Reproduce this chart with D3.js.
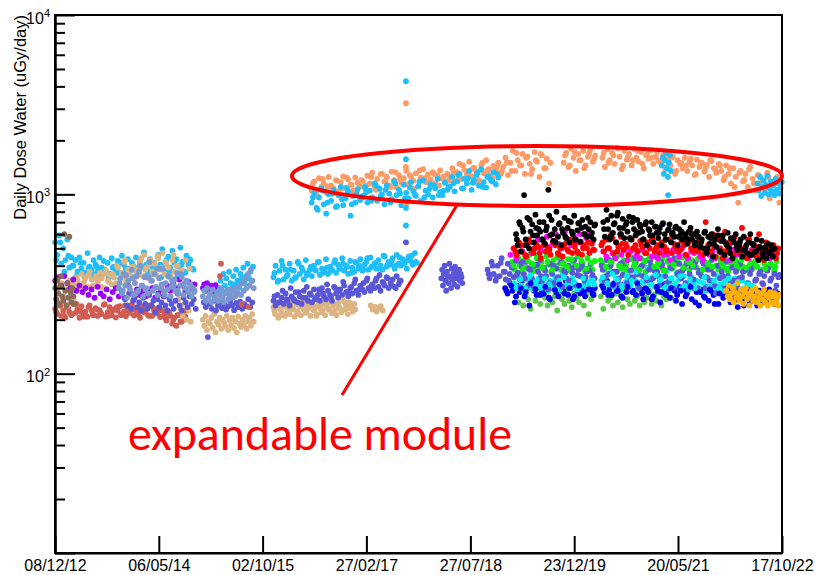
<!DOCTYPE html>
<html lang="en">
<head>
<meta charset="utf-8">
<title>Daily Dose Water</title>
<script src="https://d3js.org/d3.v7.min.js"></script>
<style>
  body { margin: 0; background: #fff; }
  svg text { font-family: "Liberation Sans", Arial, Helvetica, sans-serif; }
</style>
</head>
<body>
<div id="chart"></div>
<script>
// axis ticks
var tickDates = ["2012-12-08", "2014-05-06", "2015-10-02", "2017-02-27", "2018-07-27", "2019-12-23", "2021-05-20", "2022-10-17"];
var yMajor = [10, 100, 1000, 10000];
var yLabelled = [100, 1000, 10000];

// ---- 2012-2014 sensors (values in uGy/day, one value every `step` days from start)
var lightBlue1 = [540,460,590,410,500,430,560,390,445,400, 430,370,445,385,415,365,470,395,380,430,
  405,370,445,390,425,375,415,360,440,395, 380,425,365,455,405,385,435,370,415,395,
  445,375,420,390,475,405,370,435,395,415, 385,460,405,495,375,430,450,390,485,415,
  435,395,505,420,370,455,405,430,385];
var lightBlue1b = [430,540,370,455,400, 350,415,345,390,360, 395,350,380,345,390, 365,415,350,385,345,
  375,395,350,420,360, 385,345,410,370,430, 350,405,365,435,380];
var tan1 = [290,250,320,270,300,240,330,280,260,310, 330,300,360,320,345,305,370,335,310,350,
  325,365,340,300,375,330,355,315,345,320, 390,340,365,420,330,380,350,395,340,370,
  380,420,350,460,390,340,430,370,410,355, 440,380,470,360,410,390,350,430,370,400,
  260,230,210,245,200,225,195];
var tan1b = [315,345,300,335,355,310,340,305,360,325, 360,400,345,430,370,395,350,440,380,410,
  360,450,390,420,345,460,400,375,430,385];
var indianRed1 = [230,215,240,210,225,205,235,220,212,245, 218,228,205,238,215,222,208,240,225,212,
  232,210,226,215,242,208,220,235,212,228, 206,224,238,214,222,209,230,218,243,211,
  226,215,205,236,220,228,212,240,210,224, 218,232,207,226,215,198,222,210,190,205,
  185,212,195,218,200,225];
var indianRed1b = [220,240,210,232,215,245,222,208,236,214, 228,218,244,210,226,235,212,240,220,230,
  214,238,222,210,234,216,226,205,218,200, 212,195,208];
var purple1 = [330,345,310,350,320,300,335,290,310,285, 300,275,295,265,305,280,270,295,260,285,
  300,270,290,265,310,280,260,295,275,290, 270,285,300,265,280,295,270,310,290,320,
  300,335,310,290,325,300,315];
var brown1 = [300,260,330,280,245,310,350,270,255,600,290,240,320,265,580,285,250,300,270,245];
var steel1 = [300,340,280,360,310,265,330,295,380,275, 320,350,290,400,310,270,345,300,280,420,
  330,290,360,305,275,340,300,385,285,320, 295,350,270,330,310,290,365,280,310,345,
  275,300,330,285,315,270,300,290];
var steel1b = [320,290,355,305,340,280,370,310,295,345,330,300,385,315,275,350,305,335,290,360,320,295,310,285];
var slate1 = [260,240,280,230,255,270,235,250,225,265, 245,230,275,240,255,220,260,235,250,270,
  240,225,260,245,230,255,280,240,225,265, 250,235,270,245,260,230];

// ---- 2015
var tan2 = [200,185,210,175,195,190,205,180,215,170, 195,188,205,178,200,192,183,210,175,198,
  186,205,180,195,170,208,190,182,200,187, 210,178,196,205,185,215,195];
var purple2 = [300,315,290,320,305,295,310,285,300,312];
var slate2 = [250,235,160,245,230,255,225,240,250,232, 245,228,238,255,240,226,248,235,252,230,
  244,238,260,235,250];
var steel2 = [270,290,255,300,265,280,250,295,270,260, 285,255,275,300,265,250,280,290,260,275,
  295,265,285,270,300,280,310,275,320,290, 340,300,360,310,380,330,300];
var lightBlue2 = [300,330,290,360,310,340,295,370,320,300, 350,315,380,330,300,360,340,390,320,350,
  410,340,370,330,395];
var indianRed2Dates = ["2015-03-05", "2015-03-10", "2015-06-20", "2015-07-25"];
var indianRed2 = [350, 410, 245, 235];

// ---- 2016-2018
var lightBlue3 = [345,400,325,375,425,335,380,355,410,330, 375,345,420,360,390,335,430,365,380,350,
  400,375,420,355,385,370,435,360,395,380, 415,365,405,385,440,375,400,360,425,390,
  370,415,385,435,375,405,420,380,445,395, 410,385,430,400,380,450,395,420,405,440,
  385,460,410,400,435,415,385,450,425,405, 470,415];
var lightBlue3b = [365,330,400,350,380,340,410,375,355,395, 380,420,365,390,375,430,385,410,395,365,
  420,400,380,440,395,415,385,455,405,425, 400,445,410,430,455,420];
var slate3 = [255,240,275,250,265,245,280,255,240,270, 260,285,250,270,245,290,265,255,280,250,
  295,265,275,255,300,270,260,290,275,255, 305,280,265,295,275,310,285,270,300,280,
  320,290,275,310,295,285,330,300,290,315, 300,340,305,290,325,310,345,300,320,335,
  305,350,315,330];
var slate3b = [270,250,290,260,300,255,285,265,305,275, 260,295,280,315,270,300,290,325,285,305,
  335,295,320,340,310,330,355,320,340,310, 300,330];
var tan3 = [235,215,250,205,230,220,245,210,240,225, 215,250,230,208,245,222,238,212,255,228,
  218,242,232,210,248,225,236,215,252,230, 220,245,212,238,228,250,218,240,225,212,
  246,232,220,255,228,240,215,250,235,222, 245];
var tan3c = [225,245,212,238,220,250,228,215,242,232, 222,248,235,210,240,226,252,230,218,244,
  236,225,250,232,240,228];
var tan3b = [240,228,236,222,232,238,225];
var slate2018 = [340,380,310,360,400,330,290,370,350,320, 410,345,300,385,335,360,315,395,340,370,
  305,355,380,330,360,345,320];

// ---- expandable module (upper band)
var salmon = [1050,1180,1000,1230,1100,1150,1020,1250,1120,1080,1200,1040,1170,1260,1090,1210,1130,1050,1240,1160,1110,
  1190,1080,1270,1150,1320,1100,1220,1060,1300,1180,1250,1120,1340,1200,1090,1280,1160,1230,1350,1140,
  1260,1190,1310,1110,1240,1380,1170,1290,1210,1330,1150,1270,1360,1220,1180,1300,
  1250,1400,1180,1330,1480,1220,1370,1290,1520,1260,1410,1340,1200,1460,1310,1550,1380,1270,1440,1350,1500,1300,
  1420,1600,1280,1500,1750,1350,1550,1450,1680,1300,1620,1480,1380,1720,1520,1250,1650,1400,1580,1150,
  null,null,null,null,null,
  1500,1700,1420,1800,1600,1350,1680,1550,1750,1450,1620,1780,1520,1650,
  null,null,
  1600,1420,1780,1550,1700,1480,1820,1620,1380,1750,1560,1680,1450,1800,1600,1520,1720,1400,1650,1580,1760,1480,1620,1540,
  1500,1650,1380,1580,1450,1620,1300,1550,1480,1400,1600,1350,1520,1450,1280,1560,1420,1500,1340,1460,1250,1530,1400,1320,1480,
  1350,1200,1450,1300,1150,1400,1250,900,1350,1180,1300,1100,1420,1220,1050,1280,1150,
  1200,1050,1320,950,1150,1000,1250,900];
var salmonB = [1150,1060,1220,1100,1010,1190,1080,1240,1130,1040,1200,
  1120,1250,1060,1300,1180,1100,1330,1210,1140,1280,1080,1360,1230,1170,1300,1120,1260,1190,
  1320,1200,1450,1280,1390,1160,1500,1350,1230,1420,1340,
  1500,1350,1700,1450,1600,1300,1550,1680,1400,1500,
  null,null,
  1650,1450,1720,1550,1400,1700,1580,
  null,
  1700,1500,1650,1800,1450,1620,1550,1750,1480,1680,1600,1720,
  1550,1420,1600,1350,1500,1450,1580,1300,1480,1400,1550,1380,1450,
  1250,1400,1100,1320,1200,1380,1150,1280,
  1100,1250,1000,1180];
var lightBlueHigh = [900,1020,840,960,1080,880,780,1000,920,1060,850,990,1100,870,950,1040,760,980,900,1070,930,
  980,1100,900,1050,960,1150,920,1080,1000,880,1120,1010,940,1180,990,1060,870,1130,1020,950,1170,1040,980,1110,920,1200,1050,1000,1140,960,1080,1220,1030,990,1160,1060,
  1100,1250,1040,1180,1300,1080,1220,1150,1350,1060,1200,1280,1120,1380,1170,1090,1260,1200,1330,1140,1240];
var lightBlueHighB = [960,820,1050,900,1010,860,940,1080,880,1000,950,
  1030,920,1120,980,1060,900,1150,1010,950,1090,1000,1180,960,1070,1120,990,1050,1100,
  1150,1280,1080,1230,1160,1320,1100,1250,1180,1300];
var lightBlue4 = [1450,1600,1300,1550,1700,1400,1250,1500,1650,1350];
var lightBlue5 = [1150,1050,1250,980,1100,1200,1020,1130,1270,1000,1080,1180,1040,1120,990,1220,1060,1150,1010,1090,1170];
var lightBlueExtraDates = ["2021-04-01"];
var lightBlueExtra = [990];

// single-day spike (2017-09-11)
var spikeDate = "2017-09-11";
var spikeLightBlue = [4275, 1570, 840, 670];
var spikeSalmon = [3220, 1420, 870];
var spikeSlate = [540];

// ---- 2018-2022 sensors
var slate4 = [380,340,420,360,330,400,350,440,370,335,410,360,390,345,425,365,335,395,
  360,420,310,380,340,400,300,370,430,330,390,350,295,410,360,320,385,345,415,305,375,340,400,325,365,430,310,380,350,395,330,370,300,410,355,340,
  null,null,null,
  380,330,430,360,400,310,450,370,340,410,355,390,320,440,375,345,415,360,300,395,350,425,335,380,
  400,340,450,370,310,420,380,350,460,330,390,300,430,365,410,340,385,320,445,360,395,335,420,300,375,
  350,410,300,380,330,430,360,280,400,340,370,310,420,350,290,390,330,370,300,410,345,275,380,320,360,300,400,335,280,370,320,350,290,390,330,270,360,310,345];
var slate4b = [360,400,345,415,370,330,395,355,420,340, 385,310,405,350,375,320,400,340,420,365, 330,390,355,410,345,375,335,
  null,
  400,350,430,370,320,415,385,345,440,360, 400,330,425,375,350,405,320,390,440,355, 375,410,335,395,365,420,345,380,310,400,
  350,385,325,395,340,370,300,380,330,360, 315,375,340,290,355];
var black = [600,520,700,480,650,990,560,740,500,620,680,540,770,590,640,
  620,560,700,530,660,1060,590,720,550,640,800,580,690,520,610,740,570,650,540,700,600,760,560,630,690,545,720,600,660,580,640,700,610,560,680,
  null,null,null,null,
  700,580,820,640,560,760,610,690,540,790,650,600,730,570,680,620,750,560,700,640,590,720,610,660,
  620,560,680,520,640,590,700,540,660,610,570,650,520,690,600,560,630,680,540,610,580,660,520,640,600,560,700,580,530,620,650,560,600,540,620,580,510,
  560,500,620,470,580,530,600,450,560,510,640,480,550,590,460,530,610,500,570,440,540,600,490,520,560,450,580,500,470,540,600,460,520,480,560,430,510,550,470,500,440,530,480,520,450,500];
var blackB = [560,680,620,520,720,590,650,700,560,630, 760,600,540,680,640,580,710,620,560,690, 650,600,740,580,670,
  null,null,
  640,720,580,680,760,600,650,700,570,740, 620,680,560,700,630,590,660,610,680,560, 640,600,650,580,620,600,
  560,600,520,580,540,610,500,570,530,590, 480,550,520,470,560,510,540,490,520,460, 530,480,500,450,510,470,490];
var red = [500,460,540,480,520,450,560,490,470,530,510,440,550,480,500,460,540,520,470,500,450,530,490,560,470,510,480,540,460,520,500,470,530,490,
  null,null,
  520,480,560,500,600,470,540,510,580,490,530,460,570,500,520,480,550,510,470,540,500,560,480,520,470,540,510,490,560,470,530,500,480,550,520,460,540,500,480,520,
  480,540,460,700,520,480,600,450,560,500,440,620,490,530,460,580,510,470,650,500,440,560,480,520,450,600,470,430,540,490,460,520,440,500];
var redB = [480,520,460,540,500,470,520,490,550,460,510,480,530,470,500,540,490,
  null,
  540,500,570,480,530,510,560,490,520,470,550,500,530,480,560,510,490,540,620,500,
  560,470,530,510,590,480,540,460,520,500,560,470,510,450,530,490,470];
var magenta1 = [460,500,440,520,480,450,540,470,500,560,490,520,580,510,540,600,530,500,620,550,520,590,540,600,510,570,620,540];
var magenta2 = [480,450,500,470,440,510,460,490,430,480,500,460,440,490,470,510,450,480,440,500,460,470,430,490,480,450,500,460,440,480,
  470,500,450,430,490,460,480,440,500,470,450,480,430,490,460,500,450,470,440,490,460,480,500,450,470,440,490,460];
var lime = [420,380,450,400,370,430,390,460,410,375,440,395,420,385,450,405,370,430,400,445,380,415,390,435,375,420,400,450,385,410,370,440,395,380,425,
  null,null,
  410,380,440,395,420,370,450,400,385,430,410,375,445,395,420,385,440,405,370,430,400,450,380,415,395,440,375,420,400,385,435,410,370,445,395,420,380,430,405,390,
  440,375,420,395,410,385,450,400,380,425,395,440,370,415,400,430,385,420,395,375,440,405,385,420,395,430,380,410,390,440,400,375,425];
var limeB = [400,440,385,425,405,455,390,420,380,445,410,395,435,400,425,385,415,
  null,
  430,395,420,450,400,385,435,410,380,425,445,395,415,375,430,405,440,390,420,400,
  435,380,415,395,445,405,385,425,400,430,390,415,400,435,385,410,395];
var cyan = [320,300,345,310,290,335,305,360,295,325,340,300,315,350,290,330,305,345,315,295,360,310,330,300,340,320,295,350,310,335,300,325,345,315,
  null,null,
  330,300,350,315,370,305,340,320,295,360,325,345,310,380,330,300,355,320,340,390,315,345,305,365,330,350,300,375,320,340,310,360,335,300,350,320,295,345,315,330,
  300,355,320,290,340,310,330,300,350,315,290,335,305,325,300,340,310,285,330,300,320,295,310,300];
var cyanB = [310,335,300,350,320,305,340,315,295,330,345,310,325,300,340,315,330,
  null,
  345,320,360,335,310,350,330,370,325,345,315,355,335,305,340,320,350,310,335,300,
  325,345,310,330,300,320,340,305,325,295,315,305];
var blue = [300,280,320,290,250,310,285,330,270,300,240,315,290,275,325,295,280,310,265,300,320,285,270,305,290,330,275,300,260,315,290,280,305,270,320,295,280,300,
  null,null,
  310,285,330,295,275,320,290,300,270,315,285,305,330,290,275,310,295,260,300,285,320,270,305,290,250,315,280,300,265,310,290,275,305,245,295,280,310,260,300,285,
  240,295,270,305,255,290,275,300,245,285,265,300,280,250,295,270,235,290,260,280,300,250,285,270,240,290,265,280,255,295,270,245,280];
var blueB = [290,310,270,300,285,320,295,275,305,260,295,315,280,300,270,310,285,295,275,
  null,
  300,275,315,290,265,305,285,320,280,295,260,305,285,275,300,255,290,270,305,250,
  285,265,295,245,280,270,290,255,275,240,285,260,275,250,290,265,280];
var seaGreen = [270,250,290,240,280,260,230,295,255,275,245,285,265,240,300,250,270,225,285,260,245,290,255,235,280,265,250,295,240,275,215,260,285,
  null,null,
  270,230,290,255,265,240,280,250,275,235,290,260,245,285,255,270,240,280,250,265,290,245,275,255,285,240,270,260,290,265];
var gold = [290,270,310,260,280,300,250,285,265,320,275,255,295,270,245,285,300,260,280,240,275,290,255,270,300,250,285,265,240,280,
  260,295,250,275,240,265,285,250,270,245,280,255,265,240,275];

// draw order (first = bottom)
var series = [
  { values: salmon,         start: "2016-06-01", step: 12, color: "#fd9a66" },
  { values: salmonB,        start: "2016-06-07", step: 24, color: "#fd9a66" },
  { values: lightBlueHigh,  start: "2016-06-01", step: 12, color: "#1ebefa" },
  { values: lightBlueHighB, start: "2016-06-07", step: 24, color: "#1ebefa" },
  { values: lightBlue4,     start: "2021-03-01", step: 5,  color: "#1ebefa" },
  { values: lightBlue5,     start: "2022-06-18", step: 6,  color: "#1ebefa" },
  { values: lightBlue1,     start: "2012-12-09", step: 10, color: "#1ebefa" },
  { values: lightBlue1b,    start: "2012-12-14", step: 20, color: "#1ebefa" },
  { values: lightBlue2,     start: "2015-03-01", step: 7,  color: "#1ebefa" },
  { values: lightBlue3,     start: "2015-11-25", step: 10, color: "#1ebefa" },
  { values: lightBlue3b,    start: "2015-11-30", step: 20, color: "#1ebefa" },
  { values: indianRed1,     start: "2012-12-09", step: 10, color: "#d05c52" },
  { values: indianRed1b,    start: "2012-12-14", step: 20, color: "#d05c52" },
  { values: tan1,           start: "2012-12-20", step: 10, color: "#dcb482" },
  { values: tan1b,          start: "2013-03-05", step: 20, color: "#dcb482" },
  { values: tan2,           start: "2014-12-10", step: 7,  color: "#dcb482" },
  { values: tan3,           start: "2015-11-25", step: 8,  color: "#dcb482" },
  { values: tan3c,          start: "2015-11-29", step: 16, color: "#dcb482" },
  { values: tan3b,          start: "2017-03-20", step: 10, color: "#dcb482" },
  { values: purple1,        start: "2012-12-09", step: 15, color: "#9a00fb" },
  { values: purple2,        start: "2014-12-10", step: 7,  color: "#9a00fb" },
  { values: brown1,         start: "2012-12-09", step: 5,  color: "#8c6a58" },
  { values: slate1,         start: "2013-11-20", step: 10, color: "#5a56d8" },
  { values: slate2,         start: "2014-12-15", step: 10, color: "#5a56d8" },
  { values: slate3,         start: "2015-11-25", step: 10, color: "#5a56d8" },
  { values: slate3b,        start: "2015-11-30", step: 20, color: "#5a56d8" },
  { values: slate2018,      start: "2018-03-05", step: 4,  color: "#5a56d8" },
  { values: steel1,         start: "2013-10-20", step: 8,  color: "#7a97cf" },
  { values: steel1b,        start: "2013-10-24", step: 16, color: "#7a97cf" },
  { values: steel2,         start: "2014-12-10", step: 7,  color: "#7a97cf" },
  { values: seaGreen,       start: "2019-03-10", step: 12, color: "#5cc64a" },
  { values: blue,           start: "2019-01-15", step: 12, color: "#0000ee" },
  { values: cyan,           start: "2019-03-01", step: 12, color: "#00eeee" },
  { values: lime,           start: "2019-02-20", step: 12, color: "#11ee11" },
  { values: slate4,         start: "2018-10-20", step: 10, color: "#5a56d8" },
  { values: slate4b,        start: "2018-10-25", step: 20, color: "#5a56d8" },
  { values: cyanB,          start: "2019-03-07", step: 24, color: "#00eeee" },
  { values: blueB,          start: "2019-01-21", step: 24, color: "#0000ee" },
  { values: limeB,          start: "2019-02-26", step: 24, color: "#11ee11" },
  { values: magenta1,       start: "2019-02-10", step: 15, color: "#ff00ff" },
  { values: magenta2,       start: "2020-05-15", step: 15, color: "#ff00ff" },
  { values: red,            start: "2019-03-01", step: 12, color: "#ff0000" },
  { values: redB,           start: "2019-03-07", step: 24, color: "#ff0000" },
  { values: black,          start: "2019-03-10", step: 8,  color: "#000000" },
  { values: blackB,         start: "2019-03-14", step: 16, color: "#000000" },
  { values: gold,           start: "2022-01-15", step: 6,  color: "#ffb000" }
];

var parseDate = d3.timeParse("%Y-%m-%d");

// flatten into points
var points = [];
series.forEach(function(s) {
  var t0 = parseDate(s.start);
  s.values.forEach(function(v, i) {
    if (v == null) return;
    points.push({ date: d3.timeDay.offset(t0, i * s.step), value: v, color: s.color });
  });
});
indianRed2.forEach(function(v, i) {
  points.push({ date: parseDate(indianRed2Dates[i]), value: v, color: "#d05c52" });
});
lightBlueExtra.forEach(function(v, i) {
  points.push({ date: parseDate(lightBlueExtraDates[i]), value: v, color: "#1ebefa" });
});
spikeSalmon.forEach(function(v) { points.push({ date: parseDate(spikeDate), value: v, color: "#fd9a66" }); });
spikeLightBlue.forEach(function(v) { points.push({ date: parseDate(spikeDate), value: v, color: "#1ebefa" }); });
spikeSlate.forEach(function(v) { points.push({ date: parseDate(spikeDate), value: v, color: "#5a56d8" }); });

// canvas
var W = 816, H = 575;
var margin = { top: 15, right: 34, bottom: 22, left: 55 };
var width = W - margin.left - margin.right;   // 727
var height = H - margin.top - margin.bottom;  // 538

var svg = d3.select("#chart").append("svg")
  .attr("width", W)
  .attr("height", H);

var g = svg.append("g")
  .attr("transform", "translate(" + margin.left + "," + margin.top + ")");

var x = d3.scaleTime()
  .domain([parseDate("2012-12-08"), parseDate("2022-10-17")])
  .range([0, width]);

var y = d3.scaleLog()
  .domain([10, 10000])
  .range([height, 0]);

// points
g.append("g")
  .selectAll("circle")
  .data(points)
  .enter().append("circle")
  .attr("cx", function(d) { return x(d.date); })
  .attr("cy", function(d) { return y(d.value); })
  .attr("r", 2.9)
  .attr("fill", function(d) { return d.color; });

// frame
g.append("rect")
  .attr("width", width)
  .attr("height", height)
  .attr("fill", "none")
  .attr("stroke", "#000")
  .attr("stroke-width", 2);

// x-axis
g.append("g")
  .attr("transform", "translate(0," + height + ")")
  .call(d3.axisBottom(x)
    .tickValues(tickDates.map(parseDate))
    .tickFormat(d3.timeFormat("%d/%m/%y"))
    .tickSize(-17)
    .tickSizeOuter(0)
    .tickPadding(7));

// y-axis minor ticks
var minor = [];
[10, 100, 1000].forEach(function(dec) {
  for (var k = 2; k <= 9; k++) minor.push(k * dec);
});
g.append("g")
  .call(d3.axisLeft(y).tickValues(minor).tickFormat("").tickSize(-10).tickSizeOuter(0));

// y-axis major ticks
var yAxis = g.append("g")
  .call(d3.axisLeft(y).tickValues(yMajor).tickSize(-20).tickSizeOuter(0).tickPadding(5)
    .tickFormat(function(d) { return yLabelled.indexOf(d) >= 0 ? "10" : ""; }));

yAxis.selectAll(".tick text")
  .attr("dy", "0.5em")
  .each(function(d) {
    if (yLabelled.indexOf(d) < 0) return;
    var t = d3.select(this);
    t.text(null);
    t.append("tspan").text("10");
    t.append("tspan")
      .attr("dy", "-0.6em")
      .style("font-size", "11px")
      .text(Math.round(Math.log10(d)));
  });

g.selectAll(".domain").attr("stroke-width", 2);
g.selectAll(".tick line").attr("stroke-width", 2);
g.selectAll(".tick text").style("font-size", "16px").attr("fill", "#000");

// y title
svg.append("text")
  .attr("transform", "translate(26,15) rotate(-90)")
  .attr("text-anchor", "end")
  .style("font-size", "16.5px")
  .text("Daily Dose Water (uGy/day)");

// annotation
svg.append("ellipse")
  .attr("cx", 537)
  .attr("cy", 176)
  .attr("rx", 245)
  .attr("ry", 30)
  .attr("fill", "none")
  .attr("stroke", "#ff0000")
  .attr("stroke-width", 4);

svg.append("line")
  .attr("x1", 457).attr("y1", 205)
  .attr("x2", 342).attr("y2", 395)
  .attr("stroke", "#ff0000")
  .attr("stroke-width", 3);

var note = svg.append("text")
  .attr("x", 128)
  .attr("y", 450)
  .attr("fill", "#ff0000")
  .style("font-family", "Calibri, Lato, 'Open Sans', sans-serif")
  .style("font-size", "46px")
  .text("expandable module");
// fit the annotation width to the reference
var len = note.node().getComputedTextLength();
note.style("font-size", (46 * 384 / len) + "px");
</script>
</body>
</html>
